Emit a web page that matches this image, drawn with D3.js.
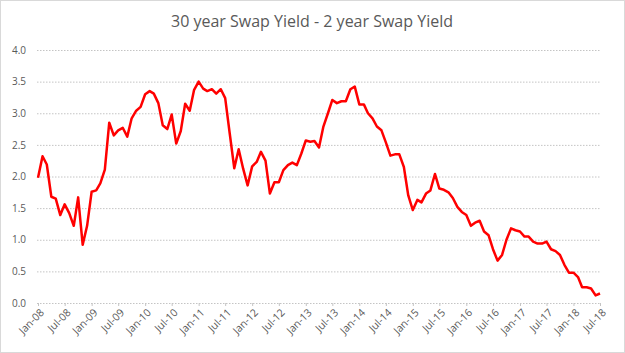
<!doctype html>
<html>
    <head>
        <title>30 year Swap Yield - 2 year Swap Yield</title>
        <script src="https://d3js.org/d3.v7.min.js"></script>
        <style>
            body { margin: 0; background: #fff; }
            text { font-family: "Open Sans", "Liberation Sans", sans-serif; fill: #595959; }
        </style>
    </head>
    <body>
        <div id="my_dataviz"></div>

        <script>
            // monthly spread (30y swap - 2y swap), Jan-08 .. Jul-18
            var firstMonth = new Date(2008, 0, 1);
            var spread = [
                1.98, 2.32, 2.19, 1.68, 1.65, 1.39, 1.56, 1.42, 1.22, 1.67, 0.92, 1.22,
                1.76, 1.78, 1.89, 2.11, 2.85, 2.65, 2.73, 2.77, 2.63, 2.92, 3.04, 3.10,
                3.30, 3.35, 3.31, 3.16, 2.81, 2.75, 2.98, 2.52, 2.72, 3.15, 3.04, 3.37,
                3.50, 3.39, 3.35, 3.38, 3.31, 3.38, 3.24, 2.68, 2.13, 2.43, 2.12, 1.86,
                2.16, 2.23, 2.39, 2.25, 1.73, 1.91, 1.91, 2.10, 2.18, 2.22, 2.18, 2.36,
                2.57, 2.55, 2.56, 2.46, 2.79, 3.00, 3.21, 3.16, 3.19, 3.19, 3.38, 3.42,
                3.14, 3.14, 3.00, 2.92, 2.79, 2.73, 2.54, 2.33, 2.35, 2.35, 2.15, 1.70,
                1.47, 1.63, 1.59, 1.73, 1.78, 2.04, 1.81, 1.79, 1.75, 1.66, 1.52, 1.44,
                1.39, 1.22, 1.27, 1.30, 1.13, 1.07, 0.85, 0.67, 0.76, 1.00, 1.18, 1.15,
                1.13, 1.05, 1.05, 0.97, 0.94, 0.94, 0.97, 0.85, 0.82, 0.76, 0.60, 0.48,
                0.48, 0.41, 0.25, 0.25, 0.23, 0.12, 0.15
            ];
            var yTicks = [0, 0.5, 1, 1.5, 2, 2.5, 3, 3.5, 4];
            var xTickLabels = ["Jan-08", "Jul-08", "Jan-09", "Jul-09", "Jan-10", "Jul-10",
                "Jan-11", "Jul-11", "Jan-12", "Jul-12", "Jan-13", "Jul-13", "Jan-14", "Jul-14",
                "Jan-15", "Jul-15", "Jan-16", "Jul-16", "Jan-17", "Jul-17", "Jan-18", "Jul-18"];

            var W = 625, H = 353;
            // plot area (note: "top" is taken by window.top, so use plotTop)
            var plotLeft = 38, plotRight = 600, plotTop = 50, plotBottom = 303;

            var data = spread.map(function(v, i) {
                return { date: d3.timeMonth.offset(firstMonth, i), value: v };
            });
            var tickDates = xTickLabels.map(function(s, i) {
                return d3.timeMonth.offset(firstMonth, i * 6);
            });

            var svg = d3.select("#my_dataviz")
                .append("svg")
                    .attr("width", W)
                    .attr("height", H);

            // outer chart border
            svg.append("rect")
                .attr("x", 0.5).attr("y", 0.5)
                .attr("width", W - 1).attr("height", H - 1)
                .attr("fill", "#fff")
                .attr("stroke", "#d9d9d9");

            var x = d3.scaleTime()
                .domain([firstMonth, d3.timeMonth.offset(firstMonth, spread.length - 1)])
                .range([plotLeft, plotRight]);
            var y = d3.scaleLinear()
                .domain([0, 4])
                .range([plotBottom, plotTop]);

            // title
            svg.append("text")
                .attr("x", 312)
                .attr("y", 27)
                .attr("text-anchor", "middle")
                .style("font-size", "16px")
                .text("30 year Swap Yield - 2 year Swap Yield");

            // y axis: dotted gridlines + labels
            var yAxis = svg.append("g")
                .attr("transform", "translate(" + (plotLeft - 1) + ",0)")
                .call(d3.axisLeft(y)
                    .tickValues(yTicks)
                    .tickSize(-(plotRight - plotLeft + 2))
                    .tickPadding(11)
                    .tickFormat(d3.format(".1f")));
            yAxis.select(".domain").remove();
            yAxis.selectAll(".tick line")
                .attr("stroke", "#c4c4c4")
                .attr("stroke-dasharray", "1.5,1.5");
            yAxis.selectAll(".tick text")
                .style("font-size", "10px")
                .attr("fill", "#595959");

            // x axis: rotated date labels
            var xAxis = svg.append("g")
                .attr("transform", "translate(0," + plotBottom + ")")
                .call(d3.axisBottom(x)
                    .tickValues(tickDates)
                    .tickSize(3)
                    .tickFormat(function(d, i) { return xTickLabels[i]; }));
            xAxis.select(".domain").remove();
            xAxis.selectAll(".tick line").attr("stroke", "#c4c4c4");
            xAxis.selectAll(".tick text")
                .style("font-size", "10.5px")
                .attr("fill", "#595959")
                .attr("text-anchor", "end")
                .attr("y", 0)
                .attr("dy", "0.7em")
                .attr("transform", "translate(1,5) rotate(-45)");

            // the spread line
            var line = d3.line()
                .x(function(d) { return x(d.date); })
                .y(function(d) { return y(d.value); });
            svg.append("path")
                .datum(data)
                .attr("fill", "none")
                .attr("stroke", "#ff0000")
                .attr("stroke-width", 2.5)
                .attr("stroke-linejoin", "round")
                .attr("d", line);
        </script>
    </body>
</html>
